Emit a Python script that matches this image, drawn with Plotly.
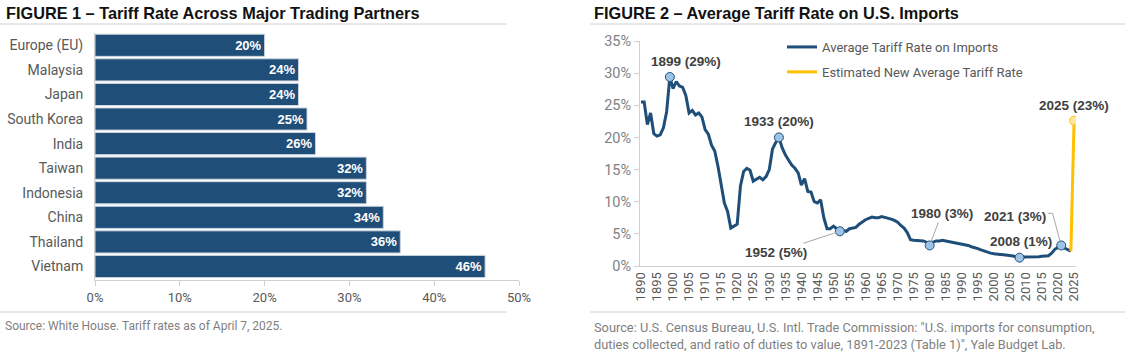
import plotly.graph_objects as go

# ---------------- data ----------------
countries = ["Europe (EU)", "Malaysia", "Japan", "South Korea", "India",
             "Taiwan", "Indonesia", "China", "Thailand", "Vietnam"]
tariff_rates = [20, 24, 24, 25, 26, 32, 32, 34, 36, 46]

years = list(range(1890, 2025))
avg_tariff = [
    25.5, 25.5, 22.0, 23.8, 20.6, 20.2, 20.4, 21.5, 24.0, 29.4,   # 1890-1899
    27.6, 28.7, 28.0, 27.8, 26.5, 23.8, 24.2, 23.5, 23.8, 23.2,   # 1900-1909
    21.2, 20.5, 18.8, 17.9, 15.5, 12.6, 9.8, 8.5, 5.9, 6.2,       # 1910-1919
    6.5, 12.4, 14.7, 15.2, 14.9, 13.2, 13.5, 13.8, 13.4, 13.9,    # 1920-1929
    15.0, 18.2, 19.2, 20.0, 18.4, 17.3, 16.5, 15.7, 15.2, 14.5,   # 1930-1939
    12.6, 13.6, 11.6, 11.5, 10.0, 9.8, 10.3, 7.5, 5.8, 5.8,       # 1940-1949
    6.2, 5.8, 5.4, 5.5, 5.4, 5.8, 5.9, 6.0, 6.5, 6.9,             # 1950-1959
    7.2, 7.4, 7.6, 7.5, 7.5, 7.7, 7.6, 7.5, 7.3, 7.1,             # 1960-1969
    6.8, 6.3, 5.9, 5.2, 4.1, 4.0, 4.0, 4.0, 3.9, 3.7,             # 1970-1979
    3.2, 3.7, 3.9, 3.9, 4.0, 3.9, 3.8, 3.7, 3.6, 3.6,             # 1980-1989
    3.5, 3.4, 3.2, 3.0, 2.9, 2.7, 2.5, 2.3, 2.2, 2.0,             # 1990-1999
    1.9, 1.8, 1.8, 1.75, 1.7, 1.65, 1.55, 1.4, 1.3, 1.4,          # 2000-2009
    1.4, 1.35, 1.35, 1.4, 1.45, 1.5, 1.5, 1.6, 2.0, 2.6,          # 2010-2019
    2.9, 3.2, 2.8, 2.5, 2.3,                                      # 2020-2024
]
est_years = [2024, 2025]
est_tariff = [2.3, 22.6]

highlight_years = [1899, 1933, 1952, 1980, 2008, 2021]
highlight_labels = ["1899 (29%)", "1933 (20%)", "1952 (5%)", "1980 (3%)",
                    "2008 (1%)", "2021 (3%)"]
est_label = "2025 (23%)"

x_ticks_1 = [0, 10, 20, 30, 40, 50]
x_ticks_2 = list(range(1890, 2026, 5))
y_ticks_2 = [0, 5, 10, 15, 20, 25, 30, 35]

# ---------------- layout helpers ----------------
W, H = 1125, 360
def px(x):
    return x / W
def py(y):
    return 1 - y / H

NAVY = "#1F4E79"
GOLD = "#FFC000"
GRAY_TXT = "#595959"
GRAY_LINE = "#D0D0D0"
BODY_FONT = "Roboto, Liberation Sans, Arial, sans-serif"
TITLE_FONT = "Liberation Sans, Arial, sans-serif"

fig = go.Figure()

# ---- Figure 1: bars ----
fig.add_trace(go.Bar(
    x=tariff_rates, y=countries, orientation="h",
    marker=dict(color=NAVY, line=dict(color="#C9D3DE", width=1)),
    text=[f"{v}%" for v in tariff_rates],
    textposition="inside", insidetextanchor="end",
    textfont=dict(color="white", size=13, family=TITLE_FONT, weight="bold"),
    cliponaxis=False, showlegend=False, width=0.9,
    xaxis="x", yaxis="y", hoverinfo="skip",
))

# ---- Figure 2: lines ----
fig.add_trace(go.Scatter(
    x=years, y=avg_tariff, mode="lines",
    line=dict(color=NAVY, width=3),
    name="Average Tariff Rate on Imports", legendgroup="a",
    xaxis="x2", yaxis="y2",
))
fig.add_trace(go.Scatter(
    x=est_years, y=est_tariff, mode="lines",
    line=dict(color=GOLD, width=3),
    name="Estimated New Average Tariff Rate", legendgroup="b",
    xaxis="x2", yaxis="y2",
))
hl_vals = [avg_tariff[years.index(y)] for y in highlight_years]
fig.add_trace(go.Scatter(
    x=highlight_years, y=hl_vals, mode="markers",
    marker=dict(size=9, color="#9DC3E6", line=dict(color=NAVY, width=1)),
    showlegend=False, xaxis="x2", yaxis="y2", hoverinfo="skip",
))
fig.add_trace(go.Scatter(
    x=[est_years[-1]], y=[est_tariff[-1]], mode="markers",
    marker=dict(size=9, color="#FFE699", line=dict(color=GOLD, width=1)),
    showlegend=False, xaxis="x2", yaxis="y2", hoverinfo="skip",
))

ann_font = dict(family=TITLE_FONT, size=13.5, color="#404040", weight="bold")
annotations = []
# label offsets in pixels (ax, ay) relative to the marker, and whether a leader is drawn
label_offsets = {
    1899: (16, -16, False),
    1933: (0, -16, False),
    1952: (-64, 21, True),
    1980: (12, -32, True),
    2008: (1, -16, False),
    2021: (-46, -29, False),
}
for yr, val, lab in zip(highlight_years, hl_vals, highlight_labels):
    ax, ay, arrow = label_offsets[yr]
    annotations.append(dict(
        x=yr, y=val, xref="x2", yref="y2", text=lab, font=ann_font,
        showarrow=True, arrowhead=0, arrowwidth=1,
        arrowcolor="#A6A6A6" if arrow else "rgba(0,0,0,0)",
        ax=ax, ay=ay, standoff=4, startstandoff=0,
    ))
annotations.append(dict(
    x=est_years[-1], y=est_tariff[-1], xref="x2", yref="y2", text=est_label,
    font=ann_font, showarrow=True, arrowcolor="rgba(0,0,0,0)", ax=0, ay=-15,
))

# titles
title_font = dict(family=TITLE_FONT, size=16.3, color="#111111")
annotations.append(dict(
    x=px(4), y=py(13), xref="paper", yref="paper", xanchor="left", yanchor="middle",
    text="<b>FIGURE 1 – Tariff Rate Across Major Trading Partners</b>",
    showarrow=False, font=title_font,
))
annotations.append(dict(
    x=px(592), y=py(13), xref="paper", yref="paper", xanchor="left", yanchor="middle",
    text="<b>FIGURE 2 – Average Tariff Rate on U.S. Imports</b>",
    showarrow=False, font=title_font,
))
# sources
annotations.append(dict(
    x=px(3), y=py(326), xref="paper", yref="paper", xanchor="left", yanchor="middle",
    text="Source: White House. Tariff rates as of April 7, 2025.",
    showarrow=False, font=dict(family=BODY_FONT, size=12, color="#7F7F7F"),
))
annotations.append(dict(
    x=px(592), y=py(335.5), xref="paper", yref="paper", xanchor="left", yanchor="middle",
    text=("Source: U.S. Census Bureau, U.S. Intl. Trade Commission: \"U.S. imports for consumption,"
          "<br>duties collected, and ratio of duties to value, 1891-2023 (Table 1)\", Yale Budget Lab."),
    showarrow=False, font=dict(family=BODY_FONT, size=12.8, color="#7F7F7F"), align="left",
))

shapes = [
    dict(type="line", xref="paper", yref="paper", x0=0, x1=px(507), y0=py(24), y1=py(24),
         line=dict(color=GRAY_LINE, width=1)),
    dict(type="line", xref="paper", yref="paper", x0=px(590), x1=1, y0=py(24), y1=py(24),
         line=dict(color=GRAY_LINE, width=1)),
    dict(type="line", xref="paper", yref="paper", x0=0, x1=px(507), y0=py(312), y1=py(312),
         line=dict(color=GRAY_LINE, width=1)),
    dict(type="line", xref="paper", yref="paper", x0=px(590), x1=1, y0=py(312), y1=py(312),
         line=dict(color=GRAY_LINE, width=1)),
    # elbow leader for 2021 label
    dict(type="path", xref="x2", yref="y2",
         path="M 2016.9,8.2 L 2018.3,8.2 L 2020.6,3.9",
         line=dict(color="#A6A6A6", width=1)),
]

fig.update_layout(
    template="none",
    width=W, height=H, margin=dict(l=0, r=0, t=0, b=0, autoexpand=False),
    paper_bgcolor="white", plot_bgcolor="white",
    font=dict(family=BODY_FONT),
    xaxis=dict(domain=[px(95), px(519)], range=[0, 50], tickvals=x_ticks_1,
               ticktext=[f"{v}%" for v in x_ticks_1], anchor="y", automargin=False,
               showgrid=False, zeroline=False, showline=True, linecolor=GRAY_LINE,
               ticks="outside", ticklen=5, tickcolor=GRAY_LINE,
               tickfont=dict(family=BODY_FONT, size=13, color=GRAY_TXT)),
    yaxis=dict(domain=[py(280), py(33)], range=[9.55, -0.5], anchor="x", automargin=False,
               showgrid=False, zeroline=False, showline=True, linecolor=GRAY_LINE,
               ticks="", tickfont=dict(family=BODY_FONT, size=14, color=GRAY_TXT),
               ticklabelstandoff=8),
    xaxis2=dict(domain=[px(640), px(1076)], range=[1889.7, 2025.6], tickvals=x_ticks_2,
                tickangle=-90, anchor="y2", automargin=False,
                showgrid=False, zeroline=False, showline=True, linecolor=GRAY_LINE,
                ticks="", tickfont=dict(family=BODY_FONT, size=13, color=GRAY_TXT)),
    yaxis2=dict(domain=[py(266), py(41)], range=[0, 35], tickvals=y_ticks_2,
                ticktext=[f"{v}%" for v in y_ticks_2], anchor="x2", automargin=False,
                showgrid=False, zeroline=False, showline=True, linecolor=GRAY_LINE,
                ticks="outside", ticklen=5, tickcolor=GRAY_LINE,
                tickfont=dict(family=BODY_FONT, size=14.5, color="#7F7F7F")),
    legend=dict(x=px(782), y=py(32), xanchor="left", yanchor="top",
                font=dict(family=BODY_FONT, size=13, color=GRAY_TXT),
                bgcolor="rgba(0,0,0,0)", tracegroupgap=5, itemwidth=30),
    annotations=annotations, shapes=shapes,
    bargap=0.1,
)

fig.write_html("out.html", config={"displayModeBar": False},
               post_script="document.body.style.margin='0';")
